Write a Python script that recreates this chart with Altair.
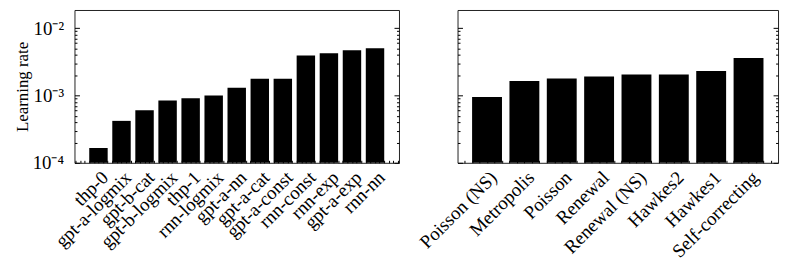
import json
import math
import altair as alt
import pandas as pd

# ---- data ----
left_names = ["thp-0", "gpt-a-logmix", "gpt-b-cat", "gpt-b-logmix", "thp-1",
              "rnn-logmix", "gpt-a-nn", "gpt-a-cat", "gpt-a-const", "rnn-const",
              "rnn-exp", "gpt-a-exp", "rnn-nn"]
left_vals = [1.66e-4, 4.2e-4, 6.05e-4, 8.4e-4, 9.1e-4, 1.0e-3, 1.3e-3,
             1.77e-3, 1.78e-3, 3.92e-3, 4.24e-3, 4.69e-3, 5.02e-3]

right_names = ["Poisson (NS)", "Metropolis", "Poisson", "Renewal",
               "Renewal (NS)", "Hawkes2", "Hawkes1", "Self-correcting"]
right_vals = [9.5e-4, 1.65e-3, 1.79e-3, 1.92e-3, 2.05e-3, 2.05e-3, 2.32e-3, 3.61e-3]

y_major = [1e-4, 1e-3, 1e-2]
y_major_labels = ["10⁻⁴", "10⁻³", "10⁻²"]
Y_MIN, Y_MAX = 1e-4, 0.01866
y_minor = [m * 10.0 ** e for e in (-4, -3, -2) for m in range(2, 10) if m * 10.0 ** e <= Y_MAX]

FONT = "Liberation Serif"
FS = 19
TFS = 17
H = 154


def tick_axis(orient, values, size):
    return alt.Axis(orient=orient, values=values, ticks=True, tickSize=size,
                    tickWidth=1, tickColor="black", offset=-size, labels=False,
                    domain=False, grid=False, title=None, minExtent=0, maxExtent=0)


def panel(names, vals, width, show_y):
    n = len(names)
    df = pd.DataFrame({"i": list(range(n)), "v": vals})
    span = (n - 1) + 0.8
    margin = 0.05 * span
    xdom = [-0.4 - margin, n - 1 + 0.4 + margin]
    x_minor = [round(k * 0.2, 1) for k in range(math.ceil(xdom[0] / 0.2), math.floor(xdom[1] / 0.2) + 1)]
    xscale = alt.Scale(domain=xdom, nice=False, zero=False)
    yscale = alt.Scale(type="log", domain=[Y_MIN, Y_MAX], nice=False)
    label_expr = json.dumps(names) + "[round(datum.value)]"
    x_axes = [
        alt.Axis(orient="bottom", values=list(range(n)), labelExpr=label_expr,
                 ticks=False, domain=False, grid=False, labelAngle=-45,
                 labelAlign="right", labelBaseline="top", labelPadding=5,
                 labelFont=FONT, labelFontSize=FS, labelColor="black",
                 labelOverlap=False, labelFlush=False, labelBound=False, title=None),
        tick_axis("bottom", x_minor, 2.5),
    ]
    y_axes = []
    if show_y:
        y_expr = json.dumps(y_major_labels) + "[round(log(datum.value)/LN10) + 4]"
        y_axes.append(alt.Axis(orient="left", values=y_major, labelExpr=y_expr,
                               ticks=False, domain=False, grid=False, labelPadding=11,
                               labelFont=FONT, labelFontSize=FS, labelColor="black",
                               title="Learning rate", titleFont=FONT, titleFontSize=TFS,
                               titleFontWeight="normal", titleColor="black",
                               titlePadding=6, labelFlush=False, labelOverlap=False,
                               minExtent=37, maxExtent=37))
    y_axes += [tick_axis("left", y_major, 5), tick_axis("left", y_minor, 2.5),
               tick_axis("right", y_major, 5), tick_axis("right", y_minor, 2.5)]

    base = alt.Chart(df)
    layers = []
    for j in range(max(len(x_axes), len(y_axes))):
        xa = x_axes[j] if j < len(x_axes) else None
        ya = y_axes[j] if j < len(y_axes) else None
        if j == 0:
            lay = base.transform_calculate(x0="datum.i - 0.4", x1="datum.i + 0.4").mark_bar(
                color="black").encode(
                x=alt.X("x0:Q", scale=xscale, axis=xa), x2="x1:Q",
                y=alt.Y("v:Q", scale=yscale, axis=ya), y2=alt.datum(Y_MIN))
        else:
            lay = base.mark_point(opacity=0).encode(
                x=alt.X("i:Q", scale=xscale, axis=xa),
                y=alt.Y("v:Q", scale=yscale, axis=ya))
        layers.append(lay)
    return alt.layer(*layers).resolve_axis(x="independent", y="independent").properties(
        width=width, height=H)


left = panel(left_names, left_vals, 327, True)
right = panel(right_names, right_vals, 323, False)

chart = alt.hconcat(left, right, spacing=59, bounds="flush").properties(
    padding={"left": 5, "top": 0, "right": 5, "bottom": 5}
).configure(font=FONT, background="white").configure_view(stroke="#222222", strokeWidth=1)

chart.save("out.html", embed_options={"renderer": "svg", "actions": False})
